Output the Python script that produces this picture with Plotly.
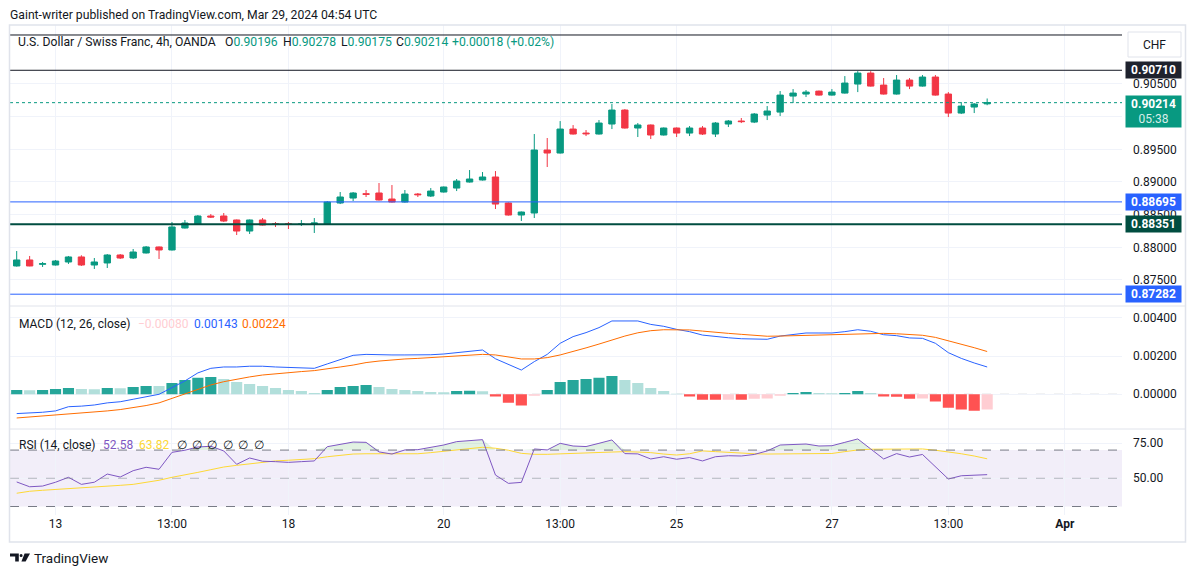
import plotly.graph_objects as go

# ---------------- data ----------------
opens = [
    0.87714, 0.87806, 0.87740, 0.87729, 0.87775, 0.87852, 0.87729, 0.87760, 0.87882, 0.87836,
    0.87913, 0.88005, 0.87959, 0.88295, 0.88356, 0.88479, 0.88479, 0.88418, 0.88249, 0.88418,
    0.88361, 0.88360, 0.88349, 0.88356, 0.88356, 0.88678, 0.88754, 0.88820, 0.88831, 0.88739,
    0.88693, 0.88815, 0.88785, 0.88846, 0.88907, 0.88999, 0.89030, 0.89076, 0.88678, 0.88494,
    0.88525, 0.89489, 0.89443, 0.89810, 0.89749, 0.89734, 0.89887, 0.90101, 0.89826, 0.89872,
    0.89719, 0.89826, 0.89749, 0.89826, 0.89734, 0.89887, 0.89933, 0.89917, 0.90024, 0.90070,
    0.90315, 0.90346, 0.90391, 0.90330, 0.90361, 0.90499, 0.90667, 0.90483, 0.90346, 0.90560,
    0.90468, 0.90606, 0.90346, 0.90055, 0.90147, 0.90196]
highs = [
    0.87943, 0.87867, 0.87775, 0.87806, 0.87867, 0.87878, 0.87836, 0.87897, 0.87897, 0.87974,
    0.88020, 0.88012, 0.88387, 0.88418, 0.88494, 0.88509, 0.88525, 0.88425, 0.88425, 0.88448,
    0.88387, 0.88387, 0.88418, 0.88448, 0.88708, 0.88846, 0.88846, 0.88877, 0.88984, 0.88953,
    0.88877, 0.88831, 0.88907, 0.88930, 0.89045, 0.89183, 0.89152, 0.89167, 0.88686, 0.88548,
    0.89734, 0.89673, 0.89932, 0.89871, 0.89795, 0.89948, 0.90193, 0.90116, 0.89902, 0.89880,
    0.89834, 0.89834, 0.89856, 0.89856, 0.89917, 0.89948, 0.89979, 0.90055, 0.90162, 0.90392,
    0.90422, 0.90407, 0.90399, 0.90422, 0.90621, 0.90697, 0.90697, 0.90591, 0.90637, 0.90591,
    0.90637, 0.90637, 0.90376, 0.90223, 0.90208, 0.90278]
lows = [
    0.87705, 0.87710, 0.87699, 0.87721, 0.87745, 0.87714, 0.87668, 0.87683, 0.87821, 0.87821,
    0.87905, 0.87821, 0.87951, 0.88288, 0.88349, 0.88448, 0.88387, 0.88188, 0.88204, 0.88333,
    0.88311, 0.88280, 0.88326, 0.88219, 0.88349, 0.88662, 0.88708, 0.88770, 0.88716, 0.88685,
    0.88685, 0.88770, 0.88770, 0.88838, 0.88861, 0.88991, 0.89022, 0.88586, 0.88486, 0.88403,
    0.88448, 0.89229, 0.89435, 0.89726, 0.89703, 0.89726, 0.89810, 0.89818, 0.89688, 0.89657,
    0.89711, 0.89688, 0.89703, 0.89719, 0.89688, 0.89841, 0.89902, 0.89902, 0.89948, 0.90009,
    0.90208, 0.90300, 0.90322, 0.90322, 0.90353, 0.90376, 0.90460, 0.90338, 0.90338, 0.90422,
    0.90460, 0.90322, 0.89994, 0.90040, 0.90055, 0.90175]
closes = [
    0.87806, 0.87714, 0.87749, 0.87790, 0.87852, 0.87729, 0.87775, 0.87882, 0.87836, 0.87928,
    0.88005, 0.87959, 0.88311, 0.88372, 0.88479, 0.88464, 0.88402, 0.88249, 0.88418, 0.88341,
    0.88352, 0.88351, 0.88356, 0.88372, 0.88693, 0.88770, 0.88831, 0.88811, 0.88724, 0.88693,
    0.88815, 0.88805, 0.88861, 0.88923, 0.89014, 0.89045, 0.89076, 0.88662, 0.88494, 0.88540,
    0.89489, 0.89443, 0.89810, 0.89734, 0.89738, 0.89902, 0.90101, 0.89826, 0.89872, 0.89719,
    0.89826, 0.89749, 0.89826, 0.89734, 0.89902, 0.89933, 0.89924, 0.90040, 0.90086, 0.90330,
    0.90361, 0.90376, 0.90330, 0.90376, 0.90514, 0.90667, 0.90468, 0.90346, 0.90560, 0.90468,
    0.90606, 0.90330, 0.90055, 0.90162, 0.90193, 0.90214]

macd_line = [
    -0.00101, -0.00098, -0.00094, -0.00087, -0.00065, -0.00062, -0.00056, -0.00045, -0.00039, -0.00026,
    -0.00014, 0.00000, 0.00035, 0.00070, 0.00112, 0.00136, 0.00143, 0.00143, 0.00147, 0.00147,
    0.00143, 0.00141, 0.00138, 0.00136, 0.00159, 0.00183, 0.00204, 0.00209, 0.00206, 0.00206,
    0.00206, 0.00206, 0.00207, 0.00211, 0.00218, 0.00227, 0.00232, 0.00186, 0.00157, 0.00127,
    0.00171, 0.00209, 0.00267, 0.00302, 0.00323, 0.00349, 0.00384, 0.00385, 0.00384, 0.00366,
    0.00356, 0.00340, 0.00328, 0.00310, 0.00302, 0.00296, 0.00291, 0.00288, 0.00288, 0.00305,
    0.00314, 0.00321, 0.00321, 0.00321, 0.00328, 0.00338, 0.00330, 0.00312, 0.00307, 0.00295,
    0.00293, 0.00267, 0.00218, 0.00188, 0.00164, 0.00143]
signal_line = [
    -0.00124, -0.00119, -0.00115, -0.00110, -0.00105, -0.00099, -0.00094, -0.00087, -0.00080, -0.00071,
    -0.00059, -0.00045, -0.00021, 0.00005, 0.00028, 0.00049, 0.00066, 0.00080, 0.00091, 0.00101,
    0.00108, 0.00113, 0.00119, 0.00124, 0.00132, 0.00143, 0.00153, 0.00166, 0.00174, 0.00181,
    0.00185, 0.00188, 0.00192, 0.00195, 0.00199, 0.00204, 0.00209, 0.00206, 0.00195, 0.00185,
    0.00185, 0.00192, 0.00206, 0.00223, 0.00243, 0.00263, 0.00285, 0.00305, 0.00322, 0.00333,
    0.00338, 0.00338, 0.00337, 0.00331, 0.00324, 0.00319, 0.00314, 0.00307, 0.00304, 0.00305,
    0.00307, 0.00309, 0.00310, 0.00312, 0.00316, 0.00317, 0.00319, 0.00319, 0.00317, 0.00312,
    0.00309, 0.00298, 0.00281, 0.00262, 0.00244, 0.00224]
macd_hist = [
    0.00023, 0.00021, 0.00023, 0.00028, 0.00033, 0.00028, 0.00027, 0.00033, 0.00032, 0.00038,
    0.00044, 0.00043, 0.00059, 0.00075, 0.00086, 0.00091, 0.00080, 0.00065, 0.00054, 0.00044,
    0.00033, 0.00023, 0.00017, 0.00007, 0.00023, 0.00038, 0.00044, 0.00049, 0.00038, 0.00028,
    0.00023, 0.00017, 0.00012, 0.00011, 0.00017, 0.00018, 0.00016, -0.00012, -0.00044, -0.00059,
    -0.00007, 0.00023, 0.00065, 0.00075, 0.00080, 0.00086, 0.00096, 0.00075, 0.00059, 0.00033,
    0.00017, 0.00003, -0.00012, -0.00028, -0.00029, -0.00028, -0.00029, -0.00023, -0.00022, -0.00007,
    0.00007, 0.00012, 0.00007, 0.00006, 0.00007, 0.00017, 0.00007, -0.00012, -0.00013, -0.00023,
    -0.00022, -0.00038, -0.00070, -0.00080, -0.00086, -0.00080]

rsi_vals = [
    47.4, 44.0, 44.5, 47.2, 50.7, 45.7, 47.2, 53.0, 50.9, 55.4,
    57.8, 56.4, 68.4, 69.9, 72.2, 72.7, 69.4, 59.9, 64.4, 62.1,
    61.8, 61.3, 61.8, 62.3, 72.4, 74.3, 75.7, 75.5, 68.7, 67.2,
    70.1, 70.3, 71.7, 73.6, 76.0, 76.7, 77.4, 52.3, 46.4, 47.1,
    70.8, 70.1, 74.8, 72.9, 72.5, 74.8, 77.2, 67.5, 67.3, 63.7,
    65.3, 63.5, 64.7, 62.3, 65.3, 66.0, 65.8, 66.9, 69.4, 73.6,
    74.1, 74.3, 72.9, 73.1, 75.5, 77.9, 70.8, 63.7, 67.5, 65.1,
    66.9, 58.4, 49.5, 51.8, 52.3, 52.58]
rsi_ma = [
    39.4, 40.8, 41.5, 42.0, 42.7, 43.1, 43.6, 44.3, 45.0, 45.7,
    46.9, 48.6, 50.7, 52.3, 54.2, 56.1, 58.0, 59.2, 60.4, 61.6,
    62.3, 62.8, 63.2, 63.9, 65.3, 66.5, 67.2, 67.4, 67.4, 67.0,
    67.0, 67.4, 68.2, 69.1, 70.1, 71.0, 72.0, 71.3, 69.9, 67.7,
    67.0, 67.0, 67.2, 67.4, 67.9, 68.3, 68.6, 68.9, 68.6, 68.2,
    67.2, 66.5, 67.4, 69.4, 68.9, 68.3, 67.9, 67.4, 67.2, 67.2,
    67.2, 67.2, 67.4, 67.6, 68.9, 70.1, 70.6, 70.6, 70.8, 70.8,
    70.8, 69.9, 68.9, 67.4, 65.8, 63.82]

tick_idx = [3, 12, 21, 33, 42, 51, 63, 72, 81]
tick_text = ["13", "13:00", "18", "20", "13:00", "25", "27", "13:00", "<b>Apr</b>"]
price_ticks = [0.875, 0.880, 0.885, 0.890, 0.895, 0.900, 0.905]
price_tick_text = ["0.87500", "0.88000", "0.88500", "0.89000", "0.89500", "", "0.90500"]
macd_ticks = [0.0, 0.002, 0.004]
rsi_ticks = [50, 75]
rsi_upper, rsi_mid, rsi_lower = 70, 50, 30

level_top = 0.91250
level_res = 0.90710
level_sup1 = 0.88695
level_sup2 = 0.88351
level_sup3 = 0.87282
last_price = 0.90214
countdown = "05:38"

title_text = "U.S. Dollar / Swiss Franc, 4h, OANDA"
ohlc_labels = ["O", "H", "L", "C"]
ohlc_values = ["0.90196", "0.90278", "0.90175", "0.90214"]
change_text = "+0.00018 (+0.02%)"
macd_legend = ["\u22120.00080", "0.00143", "0.00224"]
rsi_legend = ["52.58", "63.82"]

# ---------------- layout helpers ----------------
W, H = 1195, 577
ML, MR, MT, MB = 10, 73, 25, 62
PW, PH = W - ML - MR, H - MT - MB


def px_x(px):
    return (px - ML) / PW


def px_y(py):
    return (H - MB - py) / PH


GRID = "#f0f3fa"
BORDER = "#e0e3eb"
TXT = "#131722"
UP = "#089981"
DOWN = "#f23645"
FONT = "Roboto"

idx = list(range(len(opens)))
xr = [-0.518, 85.42]

# histogram colours from rising/falling
hist_colors = []
for i, h in enumerate(macd_hist):
    prev = macd_hist[i - 1] if i > 0 else None
    if h >= 0:
        hist_colors.append("#26a69a" if (prev is None or h >= prev) else "#b2dfdb")
    else:
        hist_colors.append("#ff5252" if (prev is None or h < prev) else "#ffcdd2")

fig = go.Figure()

fig.add_trace(go.Candlestick(
    x=idx, open=opens, high=highs, low=lows, close=closes,
    xaxis="x", yaxis="y",
    increasing=dict(line=dict(color=UP, width=1), fillcolor=UP),
    decreasing=dict(line=dict(color=DOWN, width=1), fillcolor=DOWN),
    whiskerwidth=0, hoverinfo="skip"))

fig.add_trace(go.Bar(x=idx, y=macd_hist, marker=dict(color=hist_colors, line=dict(width=0)),
                     width=0.86, xaxis="x2", yaxis="y2", hoverinfo="skip"))
fig.add_trace(go.Scatter(x=idx, y=macd_line, mode="lines", line=dict(color="#2962ff", width=1),
                         xaxis="x2", yaxis="y2", hoverinfo="skip"))
fig.add_trace(go.Scatter(x=idx, y=signal_line, mode="lines", line=dict(color="#ff6d00", width=1),
                         xaxis="x2", yaxis="y2", hoverinfo="skip"))

# RSI overbought fill
fig.add_trace(go.Scatter(x=idx, y=[rsi_upper] * len(idx), mode="lines", line=dict(width=0),
                         xaxis="x3", yaxis="y3", hoverinfo="skip"))
fig.add_trace(go.Scatter(x=idx, y=[max(v, rsi_upper) for v in rsi_vals], mode="lines",
                         line=dict(width=0), fill="tonexty", fillcolor="rgba(76,175,80,0.16)",
                         xaxis="x3", yaxis="y3", hoverinfo="skip"))
fig.add_trace(go.Scatter(x=idx, y=rsi_ma, mode="lines", line=dict(color="#fdd835", width=1),
                         xaxis="x3", yaxis="y3", hoverinfo="skip"))
fig.add_trace(go.Scatter(x=idx, y=rsi_vals, mode="lines", line=dict(color="#7e57c2", width=1),
                         xaxis="x3", yaxis="y3", hoverinfo="skip"))

tickfont = dict(family=FONT, size=12, color=TXT)
xcommon = dict(range=xr, tickvals=tick_idx, showgrid=True, gridcolor=GRID, gridwidth=1,
               zeroline=False, showline=False, ticks="", fixedrange=True)
ycommon = dict(side="right", showgrid=True, gridcolor=GRID, zeroline=False, showline=False,
               ticks="", tickfont=tickfont, ticklabelstandoff=10, fixedrange=True)

fig.update_layout(
    width=W, height=H,
    margin=dict(l=ML, r=MR, t=MT, b=MB, autoexpand=False),
    paper_bgcolor="white", plot_bgcolor="white",
    showlegend=False, hovermode=False,
    font=dict(family=FONT, size=12, color=TXT),
    xaxis=dict(anchor="y", showticklabels=False, rangeslider=dict(visible=False), **xcommon),
    xaxis2=dict(anchor="y2", showticklabels=False, **xcommon),
    xaxis3=dict(anchor="y3", ticktext=tick_text, tickfont=tickfont, **xcommon),
    yaxis=dict(domain=[px_y(305.5), 1], anchor="x", range=[0.87109, 0.91403],
               tickvals=price_ticks, ticktext=price_tick_text, **ycommon),
    yaxis2=dict(domain=[px_y(428.5), px_y(306.5)], anchor="x2", range=[-0.001791, 0.004597],
                tickvals=macd_ticks, tickformat=".5f", **ycommon),
    yaxis3=dict(domain=[0, px_y(429.5)], anchor="x3", range=[23.97, 84.6],
                tickvals=rsi_ticks, tickformat=".2f", **ycommon),
)

shapes = []
# RSI background band and dashed levels
shapes.append(dict(type="rect", xref="x3 domain", yref="y3", x0=0, x1=1, y0=rsi_lower, y1=rsi_upper,
                   fillcolor="rgba(126,87,194,0.10)", line=dict(width=0), layer="below"))
for lv, col in [(rsi_upper, "#787b86"), (rsi_mid, "rgba(120,123,134,0.5)"), (rsi_lower, "#787b86")]:
    shapes.append(dict(type="line", xref="x3 domain", yref="y3", x0=0, x1=1, y0=lv, y1=lv,
                       line=dict(color=col, width=1, dash="dash")))
# MACD zero line
shapes.append(dict(type="line", xref="x2 domain", yref="y2", x0=0, x1=1, y0=0, y1=0,
                   line=dict(color="rgba(120,123,134,0.45)", width=1, dash="dash"), layer="below"))
# main pane levels
for lv, col, wd in [(level_top, "#131722", 1), (level_res, "#131722", 1), (level_sup1, "#2962ff", 1),
                    (level_sup2, "#004d40", 2), (level_sup3, "#2962ff", 1)]:
    shapes.append(dict(type="line", xref="x domain", yref="y", x0=0, x1=1, y0=lv, y1=lv,
                       line=dict(color=col, width=wd)))
shapes.append(dict(type="line", xref="x domain", yref="y", x0=0, x1=1, y0=last_price, y1=last_price,
                   line=dict(color=UP, width=1, dash="dot")))
# pane separators and frame
for py in [306, 429]:
    shapes.append(dict(type="line", xref="paper", yref="paper", x0=px_x(10), x1=px_x(1185),
                       y0=px_y(py), y1=px_y(py), line=dict(color=BORDER, width=1)))
shapes.append(dict(type="rect", xref="paper", yref="paper", x0=px_x(9.5), x1=px_x(1185.5),
                   y0=px_y(542), y1=px_y(25), line=dict(color=BORDER, width=1.5)))
# CHF box
shapes.append(dict(type="rect", xref="paper", yref="paper", x0=px_x(1128), x1=px_x(1181),
                   y0=px_y(57), y1=px_y(32), fillcolor="white", line=dict(color=BORDER, width=1)))


# TradingView logo
def ppath(pts):
    s = ""
    for k, (a, b) in enumerate(pts):
        s += ("M" if k == 0 else "L") + f"{px_x(a):.5f},{px_y(b):.5f} "
    return s + "Z"


shapes.append(dict(type="path", xref="paper", yref="paper",
                   path=ppath([(10, 553.5), (18.8, 553.5), (18.8, 561.5), (15.2, 561.5), (15.2, 556.6), (10, 556.6)]),
                   fillcolor=TXT, line=dict(width=0)))
shapes.append(dict(type="circle", xref="paper", yref="paper", x0=px_x(19.6), x1=px_x(22.6),
                   y0=px_y(557), y1=px_y(554), fillcolor=TXT, line=dict(width=0)))
shapes.append(dict(type="path", xref="paper", yref="paper",
                   path=ppath([(24.6, 553.5), (30, 553.5), (25.6, 561.5), (21.4, 561.5)]),
                   fillcolor=TXT, line=dict(width=0)))
fig.update_layout(shapes=shapes)

ann = []


def txt(x, y, text, size=12, color=TXT, anchor="left"):
    ann.append(dict(xref="paper", yref="paper", x=px_x(x), y=px_y(y), text=text, showarrow=False,
                    xanchor=anchor, yanchor="middle", borderpad=0,
                    font=dict(family=FONT, size=size, color=color)))


txt(9, 14.5, "Gaint-writer published on TradingView.com, Mar 29, 2024 04:54 UTC", size=12.2)
txt(17, 42.5, title_text, size=12.2)
for k, (lab, val) in enumerate(zip(ohlc_labels, ohlc_values)):
    xpos = [223.5, 281.5, 339.5, 394.5][k]
    txt(xpos, 42.5, f"{lab}<span style='color:{UP}'>{val}</span>", size=12.2)
txt(451.5, 42.5, change_text, size=12.2, color=UP)

txt(18, 324, "MACD (12, 26, close)", size=12)
txt(137, 324, macd_legend[0], size=12, color="#ffcdd2")
txt(193, 324, macd_legend[1], size=12, color="#2962ff")
txt(241, 324, macd_legend[2], size=12, color="#ff6d00")

txt(18, 445, "RSI (14, close)", size=12)
txt(101.5, 445, rsi_legend[0], size=12, color="#7e57c2")
txt(138, 445, rsi_legend[1], size=12, color="#fdd835")
for k in range(6):
    txt(175.5 + 15.4 * k, 445, "\u2205", size=12)

txt(1154.5, 45, "CHF", size=12, anchor="center")
txt(33, 558, "TradingView", size=13.5)


def price_label(val, bg, text=None, height=12, yshift=0, yanchor="middle"):
    ann.append(dict(xref="paper", yref="y", x=1, y=val, xanchor="left", yanchor=yanchor,
                    xshift=3, yshift=yshift, width=51, height=height, borderpad=2,
                    bgcolor=bg, showarrow=False, align="center",
                    text=text if text else f"<b>{val:.5f}</b>",
                    font=dict(family=FONT, size=12, color="white")))


price_label(level_res, "#1e222d")
price_label(last_price, UP,
            text=f"<b>{last_price:.5f}</b><br><span style='color:rgba(255,255,255,0.85)'>{countdown}</span>",
            height=27, yshift=8, yanchor="top")
price_label(level_sup1, "#2962ff")
price_label(level_sup2, "#004d40")
price_label(level_sup3, "#2962ff")

fig.update_layout(annotations=ann)
fig.write_html("out.html", config={"displayModeBar": False, "staticPlot": True},
               post_script="document.body.style.margin='0px';document.body.style.overflow='hidden';")
